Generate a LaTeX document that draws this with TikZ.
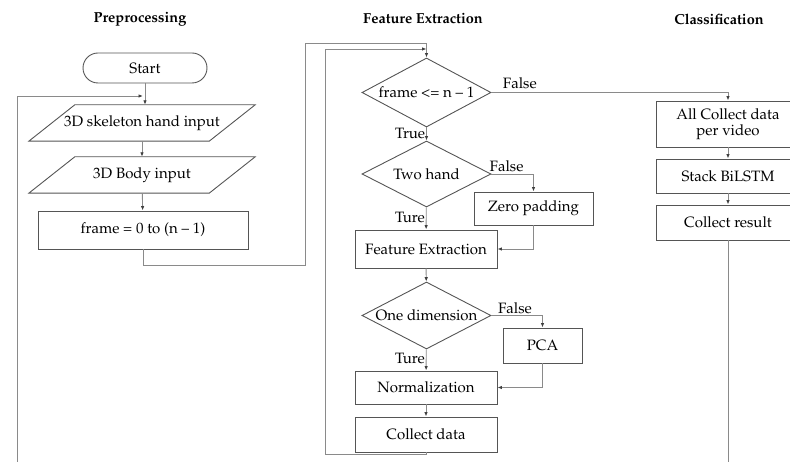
\documentclass[tikz,border=0pt]{standalone}
\usepackage[T1]{fontenc}
\usepackage{mathpazo}
\usetikzlibrary{shapes.geometric,arrows.meta}
\definecolor{edge}{HTML}{555555}
\definecolor{linegray}{HTML}{8A8A8A}
\begin{document}
\begin{tikzpicture}[x=1pt,y=-1pt,
  font=\fontsize{15}{16.5}\selectfont,
  blk/.style={draw=edge, line width=0.9pt, inner sep=0pt, align=center},
  rbox/.style={blk, rectangle},
  dia/.style={blk, diamond, aspect=1.9, minimum width=129pt, minimum height=68pt},
  parabody/.style={rectangle, inner sep=0pt, minimum width=180pt, minimum height=36pt},
  paraline/.style={draw=edge, line width=0.9pt},
  wire/.style={draw=linegray, line width=0.9pt},
  conn/.style={wire, -{Latex[length=4.5pt,width=3.5pt,color=black!75]}},
  head/.style={font=\fontsize{14.5}{16}\selectfont\bfseries},
  lbl/.style={inner sep=1pt}]
\useasboundingbox (0,0) rectangle (790,462);
\clip (0,0) rectangle (790,462);

% column headings
\node[head] (h1) at (140,19) {Preprocessing};
\node[head] (h2) at (423,19) {Feature Extraction};
\node[head] (h3) at (719,19) {Classification};

% preprocessing column
\node[blk, rounded corners=15pt, minimum width=124pt, minimum height=30pt] (start) at (145,68) {Start};
\node[parabody] (sk) at (142,123) {3D skeleton hand input};
\node[parabody] (body) at (142,175) {3D Body input};
\foreach \p in {sk,body}
  \draw[paraline] ([xshift=23pt]\p.north west) -- ([xshift=23pt]\p.north east)
    -- ([xshift=-23pt]\p.south east) -- ([xshift=-23pt]\p.south west) -- cycle;
\node[rbox, minimum width=210pt, minimum height=38pt] (frame) at (143,230) {frame = 0 to (n -- 1)};

% feature extraction column
\node[dia, minimum height=69pt] (d1) at (426.5,92.5) {frame <= n -- 1};
\node[dia, minimum height=66pt] (d2) at (426.5,174) {Two hand};
\node[rbox, minimum width=119pt, minimum height=33pt] (zp) at (533.5,208.5) {Zero padding};
\node[rbox, minimum width=142pt, minimum height=38pt] (fe) at (426,249) {Feature Extraction};
\node[dia, minimum height=67pt] (d3) at (426.5,315.5) {One dimension};
\node[rbox, minimum width=79pt, minimum height=35pt] (pca) at (542.5,345.5) {PCA};
\node[rbox, minimum width=142pt, minimum height=33pt] (norm) at (426,387.5) {Normalization};
\node[rbox, minimum width=142pt, minimum height=35pt] (cd) at (426,434.5) {Collect data};

% classification column
\node[rbox, minimum width=144pt, minimum height=46pt] (acd) at (728,124) {All Collect data\\per video};
\node[rbox, minimum width=144pt, minimum height=34pt] (sb) at (728,176) {Stack BiLSTM};
\node[rbox, minimum width=144pt, minimum height=35pt] (cr) at (728,222.5) {Collect result};

% free ends and joints
\coordinate (in1) at (17,462);
\coordinate (j1) at (143,96);
\coordinate (r1) at (305,43);
\coordinate (r2) at (325,49);
\coordinate (j2) at (426.5,49);
\coordinate (out3) at (728,462);

% preprocessing flow
\draw[conn] (start.south) -- (start.south |- sk.north);
\draw[conn] (in1) |- (j1);
\draw[conn] (sk) -- (body);
\draw[conn] (body) -- (frame);
\draw[conn] (frame.south) -- ++(0,16) -| (r1) -| (d1.north);

% feature extraction flow
\draw[conn] (d1) -- node[lbl, left, pos=0.45] {True} (d2);
\draw[conn] (d2.east) -| node[lbl, above=1pt, pos=0.18] {False} (zp.north);
\draw[conn] (zp.south) |- (fe.east);
\draw[conn] (d2) -- node[lbl, left, pos=0.45] {Ture} (fe);
\draw[conn] (fe) -- (d3);
\draw[conn] (d3.east) -| node[lbl, above=0pt, pos=0.23] {False} (pca.north);
\draw[conn] (pca.south) |- (norm.east);
\draw[conn] (d3) -- node[lbl, left, pos=0.45] {Ture} (norm);
\draw[conn] (norm) -- (cd);
\draw[conn] (cd.south) -- ++(0,2) -| (r2) -- (j2);

% classification flow
\draw[conn] (d1.east) -| node[lbl, above=2pt, pos=0.06] {False} (acd.north);
\draw[conn] (acd) -- (sb);
\draw[conn] (sb) -- (cr);
\draw[wire] (cr.south) -- (out3);
\end{tikzpicture}
\end{document}
